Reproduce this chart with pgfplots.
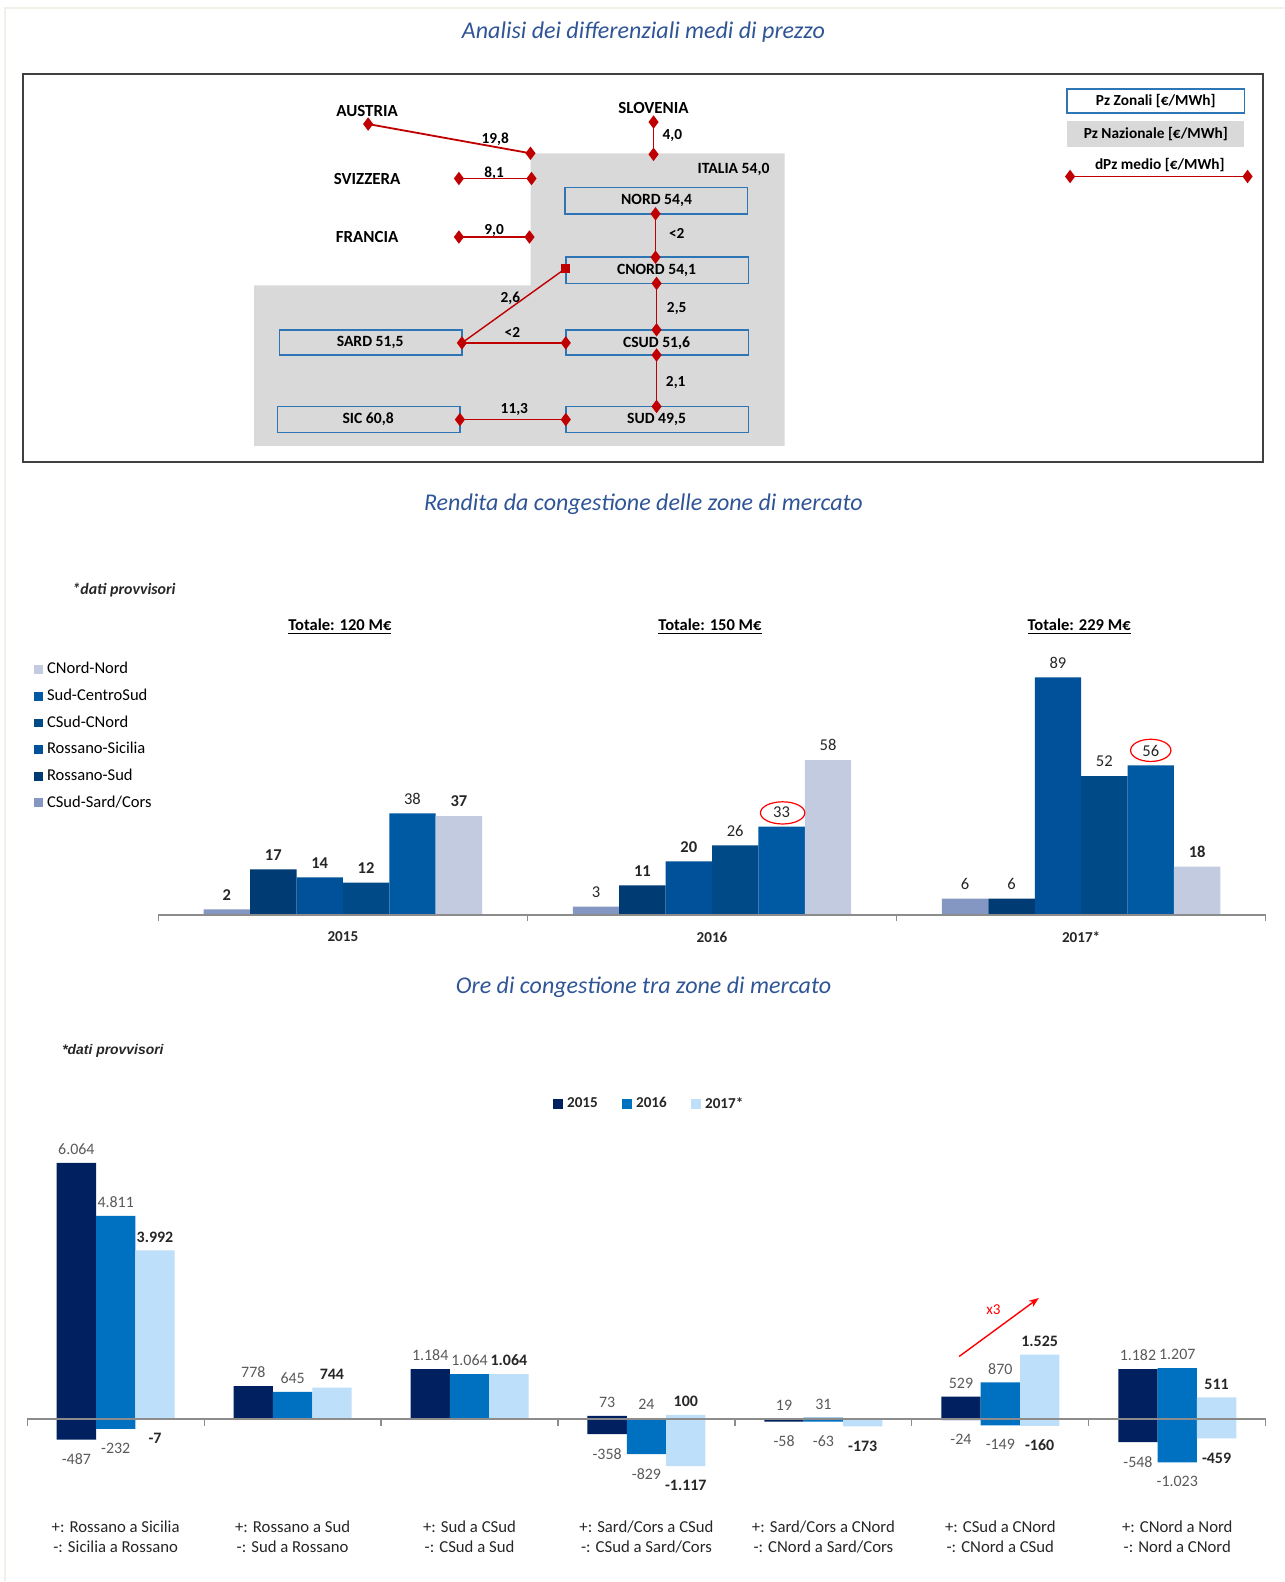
\documentclass[border=0pt]{standalone}
\usepackage{fontspec}
\setmainfont{Carlito}
\newfontfamily\arialfont{Liberation Sans}
\usepackage{pgfplots}
\pgfplotsset{compat=1.18}
\usetikzlibrary{arrows.meta}

\definecolor{titleblue}{HTML}{2F5597}
\definecolor{zonegray}{HTML}{D9D9D9}
\definecolor{boxblue}{HTML}{2E75B6}
\definecolor{linkred}{HTML}{C00000}
\definecolor{sardcors}{HTML}{8497C2}
\definecolor{rossud}{HTML}{003B73}
\definecolor{rossic}{HTML}{00519A}
\definecolor{csudcnord}{HTML}{004A87}
\definecolor{sudcsud}{HTML}{0059A3}
\definecolor{cnordnord}{HTML}{C2CBDF}
\definecolor{y15}{HTML}{002060}
\definecolor{y16}{HTML}{0070C0}
\definecolor{y17}{HTML}{BDDFFA}
\definecolor{labgray}{HTML}{595959}
\definecolor{labdark}{HTML}{262626}
\definecolor{axgray}{HTML}{8C8C8C}
\definecolor{edge}{HTML}{F0F0E8}

\newcommand\fs[1]{\fontsize{#1}{#1}\selectfont}

\begin{document}
\begin{tikzpicture}

% ---------------- Rendita da congestione ----------------
\begin{axis}[
  at={(78.5pt,330.5pt)}, anchor=south west,
  scale only axis, width=549pt, height=132.25pt,
  xmin=-0.5, xmax=2.5, ymin=0, ymax=100,
  axis y line=none, axis x line*=bottom, x axis line style={draw=none},
  xtick={0,1,2}, xticklabels={2015,2016,2017*}, major tick length=0pt,
  xticklabel style={font=\fs{7.5}\bfseries, text=labdark, yshift=-5pt},
  point meta=explicit symbolic,
  nodes near coords,
  every node near coord/.append style={font=\fs{8.2}, text=labdark, yshift=1pt},
  clip=false,
  legend image code/.code={\fill[#1,draw=none] (0pt,-2.2pt) rectangle (4.4pt,2.2pt);},
  reverse legend,
  legend style={at={(-0.1129,0.955)}, anchor=north west, draw=none, fill=none,
    font=\fontsize{8.2}{9}\selectfont, row sep=3.9pt, inner sep=0pt,
    nodes={inner sep=1pt, text height=5.7pt, text depth=1.6pt},
    /tikz/every odd column/.append style={column sep=1.2pt}},
  legend cell align=left,
  sh/.style={ybar, bar width=23pt, draw=none, bar shift=#1,
    every node near coord/.append style={xshift=#1}},
]
\addplot[sh=-57.5pt, fill=sardcors]
  coordinates {(0,2)[\bfseries 2] (1,3)[3] (2,6)[6]};
\addlegendentry{CSud-Sard/Cors}
\addplot[sh=-34.5pt, fill=rossud]
  coordinates {(0,17)[\bfseries 17] (1,11)[\bfseries 11] (2,6)[6]};
\addlegendentry{Rossano-Sud}
\addplot[sh=-11.5pt, fill=rossic]
  coordinates {(0,14)[\bfseries 14] (1,20)[\bfseries 20] (2,89)[89]};
\addlegendentry{Rossano-Sicilia}
\addplot[sh=11.5pt, fill=csudcnord]
  coordinates {(0,12)[\bfseries 12] (1,26)[26] (2,52)[52]};
\addlegendentry{CSud-CNord}
\addplot[sh=34.5pt, fill=sudcsud]
  coordinates {(0,38)[38] (1,33)[33] (2,56)[56]};
\addlegendentry{Sud-CentroSud}
\addplot[sh=57.5pt, fill=cnordnord]
  coordinates {(0,37)[\bfseries 37] (1,58)[58] (2,18)[\bfseries 18]};
\addlegendentry{CNord-Nord}
% baseline and group separators
\draw[axgray, line width=1pt] (axis cs:-0.5,0) -- (axis cs:2.5,0);
\draw[axgray, line width=0.6pt] (axis cs:-0.5,0) -- ++(0pt,-3pt);
\draw[axgray, line width=0.6pt] (axis cs:0.5,0) -- ++(0pt,-3pt);
\draw[axgray, line width=0.6pt] (axis cs:1.5,0) -- ++(0pt,-3pt);
\draw[axgray, line width=0.6pt] (axis cs:2.5,0) -- ++(0pt,-3pt);
\end{axis}

% ---------------- Ore di congestione ----------------
\begin{axis}[
  at={(13.5pt,35.45pt)}, anchor=south west,
  scale only axis, width=614pt, height=181.17pt,
  xmin=-0.5, xmax=6.5, ymin=-2150, ymax=6500,
  axis y line=none, axis x line*=bottom, x axis line style={draw=none},
  xtick={0,...,6}, major tick length=0pt,
  xticklabels={
    {+: Rossano a Sicilia\\-: Sicilia a Rossano},
    {+: Rossano a Sud\\-: Sud a Rossano},
    {+: Sud a CSud\\-: CSud a Sud},
    {+: Sard/Cors a CSud\\-: CSud a Sard/Cors},
    {+: Sard/Cors a CNord\\-: CNord a Sard/Cors},
    {+: CSud a CNord\\-: CNord a CSud},
    {+: CNord a Nord\\-: Nord a CNord}},
  xticklabel style={align=center, font=\fontsize{8.3}{10}\selectfont, text=labdark, yshift=-2pt},
  point meta=y,
  /pgf/number format/1000 sep={.},
  /pgf/number format/assume math mode=true,
  nodes near coords,
  clip=false,
  legend image code/.code={\fill[#1,draw=none] (0pt,-2.5pt) rectangle (5pt,2.5pt);},
  legend columns=3,
  legend style={at={(0.503,1.11)}, anchor=center, draw=none, fill=none,
    font=\fs{7.5}\bfseries, text=labdark, inner sep=0pt,
    /tikz/every even column/.append style={column sep=10pt}},
  pos/.style={ybar, bar width=19.5pt, draw=none, bar shift=#1,
    every node near coord/.append style={xshift=#1, yshift=0.5pt}},
  neg/.style={ybar, bar width=19.5pt, draw=none, forget plot, bar shift=#1,
    nodes near coords align={below},
    every node near coord/.append style={xshift=#1, yshift=-3.5pt}},
  lab/.style={every node near coord/.append style={font=\fs{7.9}, text=labgray}},
  labb/.style={every node near coord/.append style={font=\fs{7.9}\bfseries, text=labdark}},
]
\addplot[pos=-19.5pt, lab, fill=y15]
  coordinates {(0,6064) (1,778) (2,1184) (3,73) (4,19) (5,529) (6,1182)};
\addlegendentry{2015}
\addplot[pos=0pt, lab, fill=y16]
  coordinates {(0,4811) (1,645) (2,1064) (3,24) (4,31) (5,870) (6,1207)};
\addlegendentry{2016}
\addplot[pos=19.5pt, labb, fill=y17]
  coordinates {(0,3992) (1,744) (2,1064) (3,100) (5,1525) (6,511)};
\addlegendentry{2017*}
\addplot[neg=-19.5pt, lab, fill=y15]
  coordinates {(0,-487) (3,-358) (4,-58) (5,-24) (6,-548)};
\addplot[neg=0pt, lab, fill=y16]
  coordinates {(0,-232) (3,-829) (4,-63) (5,-149) (6,-1023)};
\addplot[neg=19.5pt, labb, fill=y17]
  coordinates {(0,-7) (3,-1117) (4,-173) (5,-160) (6,-459)};
% baseline and group separators
\draw[axgray, line width=1.4pt] (axis cs:-0.5,0) -- (axis cs:6.5,0);
\draw[axgray, line width=0.6pt] (axis cs:-0.5,0) -- ++(0pt,-3.5pt);
\draw[axgray, line width=0.6pt] (axis cs:0.5,0) -- ++(0pt,-3.5pt);
\draw[axgray, line width=0.6pt] (axis cs:1.5,0) -- ++(0pt,-3.5pt);
\draw[axgray, line width=0.6pt] (axis cs:2.5,0) -- ++(0pt,-3.5pt);
\draw[axgray, line width=0.6pt] (axis cs:3.5,0) -- ++(0pt,-3.5pt);
\draw[axgray, line width=0.6pt] (axis cs:4.5,0) -- ++(0pt,-3.5pt);
\draw[axgray, line width=0.6pt] (axis cs:5.5,0) -- ++(0pt,-3.5pt);
\draw[axgray, line width=0.6pt] (axis cs:6.5,0) -- ++(0pt,-3.5pt);
\end{axis}

% ---------------- Page layer: diagram, titles, notes ----------------
\begin{axis}[
  at={(0pt,0pt)}, anchor=south west,
  scale only axis, width=636.5pt, height=784pt,
  xmin=0, xmax=1273, ymin=0, ymax=1568, y dir=reverse,
  hide axis, clip=false,
]
\path (0,0) rectangle (1273,1568);
\draw[edge, line width=0.6pt] (5,1568) -- (5,8) -- (1273,8);

% titles
\node[font=\fs{11.9}\itshape, text=titleblue] at (638,32) {Analisi dei differenziali medi di prezzo};
\node[font=\fs{11.9}\itshape, text=titleblue] at (638,500) {Rendita da congestione delle zone di mercato};
\node[font=\fs{11.9}\itshape, text=titleblue] at (638,979) {Ore di congestione tra zone di mercato};

% market zones diagram
\draw[black!75, line width=1pt] (23,73) rectangle (1252,458);
\fill[zonegray] (526,152) -- (778,152) -- (778,442) -- (252,442) -- (252,283) -- (526,283) -- cycle;
\begin{scope}[boxblue, line width=0.8pt]
  \draw (560,186) rectangle (741,212);
  \draw (561,255) rectangle (742,281);
  \draw (561,327) rectangle (742,352);
  \draw (277,327) rectangle (458,352);
  \draw (561,403) rectangle (742,429);
  \draw (275,403) rectangle (456,429);
\end{scope}
\begin{scope}[font=\fs{7.75}\bfseries]
  \node at (651,199) {NORD 54,4};
  \node at (651,268) {CNORD 54,1};
  \node at (651,340) {CSUD 51,6};
  \node at (367,340) {SARD 51,5};
  \node at (651,416) {SUD 49,5};
  \node at (365,416) {SIC 60,8};
  \node[anchor=east] at (770,168) {ITALIA 54,0};
\end{scope}
\begin{scope}[font=\fs{8.4}\bfseries]
  \node at (364,110) {AUSTRIA};
  \node at (648,107) {SLOVENIA};
  \node at (364,177) {SVIZZERA};
  \node at (364,235) {FRANCIA};
\end{scope}
\pgfplotsset{link/.style={linkred, line width=0.9pt, mark=diamond*, mark size=2.6pt, mark options={solid, fill=linkred}}}
\addplot[link] coordinates {(365,123) (526,152)};
\addplot[link] coordinates {(648,121) (648,153)};
\addplot[link] coordinates {(455,177) (527,177)};
\addplot[link] coordinates {(455,235) (525,235)};
\addplot[link] coordinates {(650,212) (650,255)};
\addplot[link] coordinates {(651,281) (651,327)};
\addplot[linkred, line width=0.7pt, no marks] coordinates {(458,340) (561,266)};
\addplot[linkred, only marks, mark=square*, mark size=2pt] coordinates {(561,266)};
\addplot[link] coordinates {(458,340) (561,340)};
\addplot[link] coordinates {(651,352) (651,403)};
\addplot[link] coordinates {(456,416) (561,416)};
\begin{scope}[font=\fs{7.6}\bfseries]
  \node at (491,138) {19,8};
  \node[anchor=west] at (650,134) {4,0};
  \node at (490,172) {8,1};
  \node at (490,229) {9,0};
  \node at (671,231) {<2};
  \node at (671,306) {2,5};
  \node at (506,296) {2,6};
  \node at (508,330) {<2};
  \node at (670,379) {2,1};
  \node at (510,406) {11,3};
\end{scope}
% diagram key
\draw[boxblue, line width=0.8pt] (1058,88) rectangle (1234,112);
\node[font=\fs{7.6}\bfseries] at (1146,100) {Pz Zonali [€/MWh]};
\fill[zonegray] (1058,120) rectangle (1233,146);
\node[font=\fs{7.6}\bfseries] at (1146,133) {Pz Nazionale [€/MWh]};
\node[font=\fs{7.6}\bfseries] at (1150,164) {dPz medio [€/MWh]};
\addplot[link] coordinates {(1061,175) (1237,175)};

% notes of the congestion rent chart
\node[font=\fs{7.9}\bfseries\itshape, text=labdark] at (123,585) {*dati provvisori};
\node[font=\fs{8.2}\bfseries] at (337,621) {\underline{Totale: 120 M€}};
\node[font=\fs{8.2}\bfseries] at (704,621) {\underline{Totale: 150 M€}};
\node[font=\fs{8.2}\bfseries] at (1070,621) {\underline{Totale: 229 M€}};
\draw[red, line width=0.6pt] (776,806) ellipse [x radius=11pt, y radius=5.5pt];
\draw[red, line width=0.6pt] (1141,744) ellipse [x radius=10pt, y radius=5.5pt];

% notes of the congestion hours chart
\node[font=\arialfont\fs{6.9}\bfseries\itshape, text=labdark] at (112,1042) {*dati provvisori};
\draw[red, line width=0.7pt, -{Stealth[length=5pt]}] (951,1345) -- (1030,1287);
\node[font=\fs{7.5}, text=red] at (985,1299) {x3};
\end{axis}

\end{tikzpicture}
\end{document}
